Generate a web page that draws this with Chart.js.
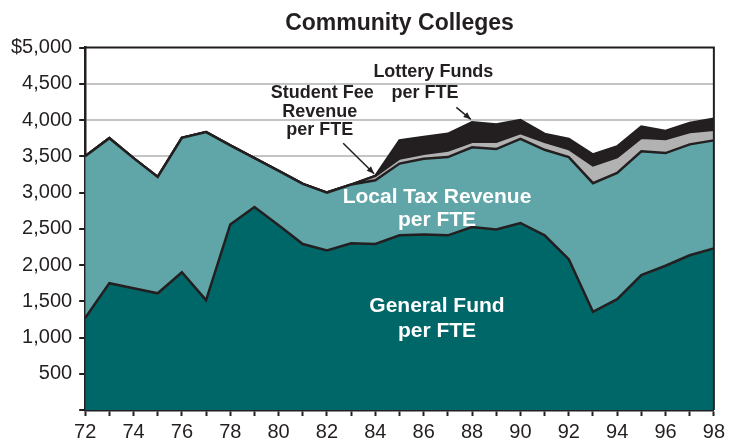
<!DOCTYPE html>
<html>
<head>
<meta charset="utf-8">
<script src="https://cdn.jsdelivr.net/npm/chart.js@4.4.0/dist/chart.umd.min.js"></script>
<style>
  html, body { margin: 0; padding: 0; background: #fff; }
  #wrap { width: 731px; height: 444px; }
</style>
</head>
<body>
<div id="wrap"><canvas id="grafik" width="731" height="444"></canvas></div>
<script>
// tahun 72..98
const tahun = ['72','73','74','75','76','77','78','79','80','81','82','83','84','85',
               '86','87','88','89','90','91','92','93','94','95','96','97','98'];

// nilai per FTE (dolar), ditumpuk dari bawah
const generalFund = [1270,1750,1680,1610,1900,1515,2560,2800,2550,2290,2200,2300,2290,2410,
                     2420,2410,2525,2490,2580,2410,2080,1355,1530,1860,1990,2135,2230];
const localTax    = [2230,2000,1795,1605,1855,2320,1090, 675, 750, 830, 800, 810, 880, 990,
                     1045,1080,1100,1110,1160,1180,1410,1775,1740,1710,1555,1530,1490];
const studentFee  = [   0,   0,   0,   0,   0,   0,   0,   0,   0,   0,   0,   0,  60,  70,
                       70,  90,  75, 100,  80, 110, 110, 245, 220, 185, 195, 170, 145];
const lottery     = [   0,   0,   0,   0,   0,   0,   0,   0,   0,   0,   0,   0,   0, 250,
                      230, 230, 270, 240, 180, 110, 140, 150, 145, 155, 110, 125, 155];

const tickY = [0,500,1000,1500,2000,2500,3000,3500,4000,4500,5000];

const HITAM = '#231f20';
const FONT  = '"Liberation Sans", Arial, sans-serif';

// label di dalam area: [teks, indeks tahun, nilai y, warna, ukuran]
const labelArea = [
    ['Local Tax Revenue', 14.55, 2930, '#ffffff', 21],
    ['per FTE',           14.55, 2615, '#ffffff', 21],
    ['General Fund',      14.55, 1430, '#ffffff', 21],
    ['per FTE',           14.55, 1090, '#ffffff', 21],
    ['Student Fee',        9.8,  4370, HITAM, 18],
    ['Revenue',            9.7,  4110, HITAM, 18],
    ['per FTE',            9.7,  3860, HITAM, 18],
    ['Lottery Funds',     14.4,  4660, HITAM, 18],
    ['per FTE',           14.05, 4370, HITAM, 18],
];

// panah penunjuk: dari (tahun, nilai) ke (tahun, nilai)
const panah = [
    [10.67, 3680, 11.95, 3260],
    [15.35, 4175, 15.95, 4010],
];

const pluginHiasan = {
    id: 'hiasan',
    afterDatasetsDraw(chart) {
        const ctx = chart.ctx;
        const x = chart.scales.x, y = chart.scales.y;
        const a = chart.chartArea;
        ctx.save();

        // bingkai atas & kanan
        ctx.strokeStyle = HITAM;
        ctx.lineWidth = 2;
        ctx.beginPath();
        ctx.moveTo(a.left, a.top);
        ctx.lineTo(a.right, a.top);
        ctx.lineTo(a.right, a.bottom);
        ctx.stroke();

        // label teks
        ctx.textAlign = 'center';
        ctx.textBaseline = 'middle';
        labelArea.forEach(([teks, xi, yv, warna, ukuran]) => {
            ctx.font = 'bold ' + ukuran + 'px ' + FONT;
            ctx.fillStyle = warna;
            ctx.fillText(teks, x.getPixelForValue(xi), y.getPixelForValue(yv));
        });

        // panah
        ctx.strokeStyle = HITAM;
        ctx.fillStyle = HITAM;
        ctx.lineWidth = 1.5;
        panah.forEach(([x1, y1, x2, y2]) => {
            const px1 = x.getPixelForValue(x1), py1 = y.getPixelForValue(y1);
            const px2 = x.getPixelForValue(x2), py2 = y.getPixelForValue(y2);
            ctx.beginPath();
            ctx.moveTo(px1, py1);
            ctx.lineTo(px2, py2);
            ctx.stroke();
            const sudut = Math.atan2(py2 - py1, px2 - px1);
            ctx.beginPath();
            ctx.moveTo(px2, py2);
            ctx.lineTo(px2 - 8 * Math.cos(sudut - 0.4), py2 - 8 * Math.sin(sudut - 0.4));
            ctx.lineTo(px2 - 8 * Math.cos(sudut + 0.4), py2 - 8 * Math.sin(sudut + 0.4));
            ctx.closePath();
            ctx.fill();
        });
        ctx.restore();
    }
};

function seri(label, data, warna, isi) {
    return {
        label: label,
        data: data,
        backgroundColor: warna,
        borderColor: HITAM,
        borderWidth: 2.5,
        pointRadius: 0,
        tension: 0,
        fill: isi
    };
}

new Chart(document.getElementById('grafik').getContext('2d'), {
    type: 'line',
    data: {
        labels: tahun,
        datasets: [
            seri('General Fund per FTE',        generalFund, '#006769', 'origin'),
            seri('Local Tax Revenue per FTE',   localTax,    '#60a6a9', '-1'),
            seri('Student Fee Revenue per FTE', studentFee,  '#b2b2b2', '-1'),
            seri('Lottery Funds per FTE',       lottery,     '#231f20', '-1'),
        ]
    },
    options: {
        responsive: false,
        animation: false,
        layout: { padding: { top: 10, right: 16, left: 4, bottom: 0 } },
        plugins: {
            legend: { display: false },
            tooltip: { enabled: false },
            title: {
                display: true,
                text: 'Community Colleges',
                fullSize: false,
                color: HITAM,
                font: { family: FONT, size: 23, weight: 'bold' },
                padding: { top: 0, bottom: 10 }
            }
        },
        scales: {
            x: {
                offset: false,
                afterFit: s => { s.height = 34; },
                border: { color: HITAM, width: 2.5 },
                grid: {
                    drawOnChartArea: false,
                    drawTicks: true,
                    tickLength: 6,
                    tickColor: HITAM,
                    tickWidth: 2
                },
                ticks: {
                    autoSkip: false,
                    maxRotation: 0,
                    color: HITAM,
                    padding: 6,
                    font: { family: FONT, size: 20, lineHeight: 1 },
                    callback: (v, i) => (i % 2 === 0 ? tahun[i] : '')
                }
            },
            y: {
                stacked: true,
                min: 0,
                max: 5000,
                afterBuildTicks: s => { s.ticks = tickY.map(v => ({ value: v })); },
                border: { color: HITAM, width: 2.5 },
                grid: {
                    color: c => (c.tick && (c.tick.value === 0 || c.tick.value === 5000)) ? 'rgba(0,0,0,0)' : '#c4c4c4',
                    lineWidth: 2,
                    tickLength: 6,
                    tickColor: HITAM,
                    tickWidth: 2
                },
                ticks: {
                    color: HITAM,
                    padding: 7,
                    font: { family: FONT, size: 20 },
                    callback: v => {
                        if (v === 0) return '';
                        if (v === 5000) return '$5,000';
                        return v.toLocaleString('en-US');
                    }
                }
            }
        }
    },
    plugins: [pluginHiasan]
});
</script>
</body>
</html>
